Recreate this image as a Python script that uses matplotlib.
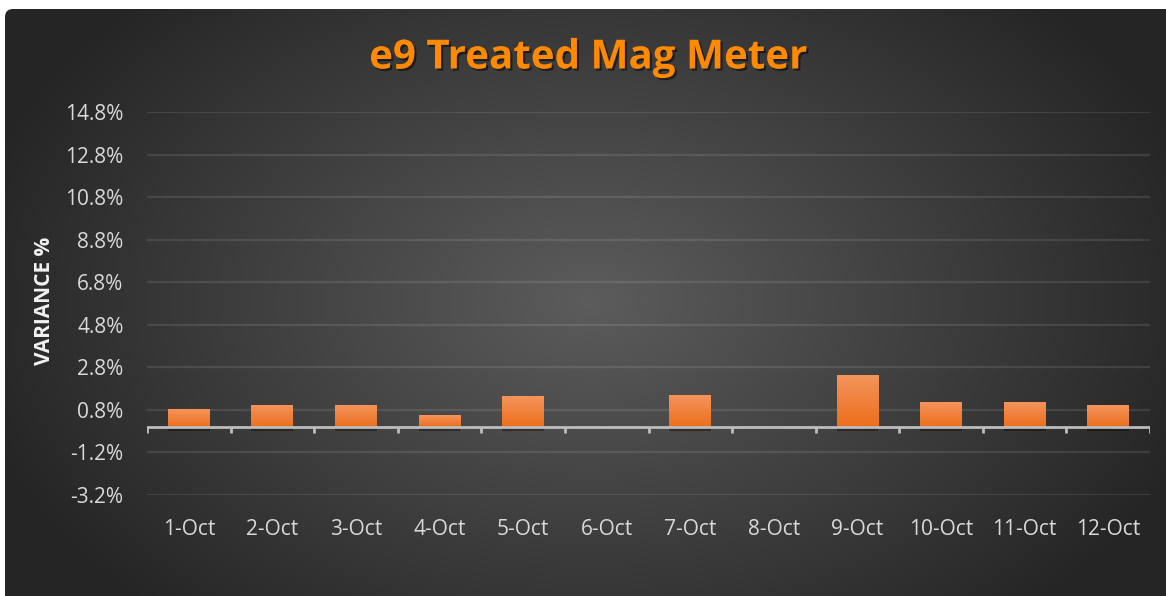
#!/usr/bin/env python3
"""e9 Treated Mag Meter - daily variance bar chart."""

import matplotlib

matplotlib.use("Agg")
import matplotlib.pyplot as plt  # noqa: E402
import matplotlib.patheffects as pe  # noqa: E402
import numpy as np  # noqa: E402
from matplotlib.patches import FancyBboxPatch  # noqa: E402

days = ["1-Oct", "2-Oct", "3-Oct", "4-Oct", "5-Oct", "6-Oct",
        "7-Oct", "8-Oct", "9-Oct", "10-Oct", "11-Oct", "12-Oct"]
variance = [0.84, 1.03, 1.03, 0.56, 1.45, 0.0, 1.50, 0.0, 2.44, 1.17, 1.17, 1.03]
yticks = [-3.2, -1.2, 0.8, 2.8, 4.8, 6.8, 8.8, 10.8, 12.8, 14.8]

W, H = 1166, 596
fig = plt.figure(figsize=(W / 100, H / 100), dpi=100)
fig.patch.set_facecolor("white")

# dark radial background panel with rounded corner
bg = fig.add_axes([0, 0, 1, 1])
bg.set_xlim(0, W); bg.set_ylim(H, 0); bg.axis("off")
xx, yy = np.meshgrid(np.arange(W), np.arange(H))
r = np.clip(np.sqrt(((xx - 590) / 640.0) ** 2 + ((yy - 300) / 430.0) ** 2), 0, 1)
light = np.array([0x5c, 0x5c, 0x5c]) / 255
dark = np.array([0x25, 0x25, 0x25]) / 255
img = light[None, None, :] * (1 - r[..., None]) + dark[None, None, :] * r[..., None]
panel = FancyBboxPatch((5, 9), W + 20, H + 20, boxstyle="round,pad=0,rounding_size=8",
                       transform=bg.transData, facecolor="none", edgecolor="none")
bg.add_patch(panel)
im = bg.imshow(img, extent=(0, W, H, 0), aspect="auto", interpolation="bilinear")
im.set_clip_path(panel)

ax = fig.add_axes([147 / W, 1 - 495 / H, (1150 - 147) / W, (495 - 112) / H])
ax.patch.set_alpha(0)
x = np.arange(len(days))
ax.set_xlim(-0.5, len(days) - 0.5)
ax.set_ylim(yticks[0], yticks[-1])

ax.set_yticks(yticks)
ax.set_yticklabels([f"{v:.1f}%" for v in yticks])
ax.yaxis.grid(True, color="white", alpha=0.1, lw=1.6)
ax.set_axisbelow(True)
for s in ax.spines.values():
    s.set_visible(False)

bars = ax.bar(x, variance, width=0.5, color="#F07A2A", zorder=3)
grad = np.linspace(0, 1, 100)[:, None]
top = np.array([0xF4, 0x94, 0x5C]) / 255
bot = np.array([0xEC, 0x6E, 0x1C]) / 255
gimg = top[None, None, :] * (1 - grad[..., None]) + bot[None, None, :] * grad[..., None]
for b in bars:
    h = b.get_height()
    if h <= 0:
        continue
    b.set_path_effects([pe.SimplePatchShadow(offset=(0, -3), shadow_rgbFace="black", alpha=0.35),
                        pe.Normal()])
    gi = ax.imshow(gimg, extent=(b.get_x(), b.get_x() + b.get_width(), 0, h),
                   aspect="auto", zorder=4, interpolation="bilinear")
    gi.set_clip_path(b)

# zero axis line with category boundary ticks
ax.axhline(0, color="#bdbdbd", lw=2, zorder=5)
ax.vlines(np.arange(len(days) + 1) - 0.5, -0.3, 0, color="#bdbdbd", lw=2, zorder=5)

ax.set_xticks(x)
ax.set_xticklabels(days)
ax.tick_params(axis="x", length=0, pad=17, labelsize=15, labelcolor="#d9d9d9")
ax.tick_params(axis="y", length=0, pad=17, labelsize=15, labelcolor="#d9d9d9")
for lab in ax.get_xticklabels() + ax.get_yticklabels():
    lab.set_fontfamily("Open Sans")

fig.text(45 / W, 1 - 301 / H, "VARIANCE %", rotation=90, ha="center", va="center",
         fontsize=15, fontweight="bold", color="#f2f2f2", fontfamily="Open Sans")

fig.text(588 / W, 1 - 58 / H, "e9 Treated Mag Meter", ha="center", va="center",
         fontsize=29, fontweight="bold", color="#FF8A00", fontfamily="Open Sans",
         path_effects=[pe.withSimplePatchShadow(offset=(1.5, -1.5), shadow_rgbFace="black", alpha=0.5)])

fig.savefig("out.png", dpi=100, facecolor=fig.get_facecolor())
